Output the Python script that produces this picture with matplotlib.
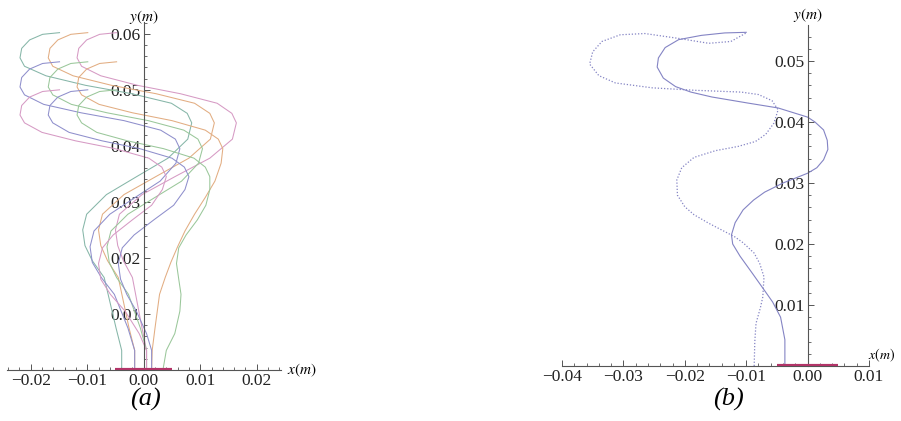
import matplotlib.pyplot as plt
from matplotlib.ticker import MultipleLocator, FuncFormatter

plt.rcParams['font.family'] = ['Liberation Serif', 'DejaVu Serif']
plt.rcParams['mathtext.fontset'] = 'stix'

# ---- panel (a): nine filament shapes (metres), base -> free tip ----
# heights along the filament, one list per tip height (0.060, 0.055, 0.050)
a_y_top = [0.0000, 0.0035, 0.0075, 0.0165, 0.0195, 0.0222, 0.0250, 0.0278, 0.0313, 0.0346, 0.0378, 0.0412,
           0.0441, 0.0458, 0.0476, 0.0493, 0.0508, 0.0525, 0.0542, 0.0557, 0.0574, 0.0589, 0.0599, 0.0602]
a_y_mid = [0.0000, 0.0035, 0.0075, 0.0135, 0.0165, 0.0192, 0.0220, 0.0248, 0.0278, 0.0308, 0.0337, 0.0369,
           0.0395, 0.0412, 0.0428, 0.0445, 0.0459, 0.0474, 0.0491, 0.0505, 0.0522, 0.0537, 0.0547, 0.0550]
a_y_low = [0.0000, 0.0035, 0.0065, 0.0105, 0.0135, 0.0162, 0.0190, 0.0218, 0.0241, 0.0268, 0.0294, 0.0322,
           0.0345, 0.0362, 0.0378, 0.0395, 0.0409, 0.0424, 0.0441, 0.0455, 0.0472, 0.0487, 0.0497, 0.0500]

a_x = {
    'top_left': [-0.0039, -0.0039, -0.0049, -0.0070, -0.0091, -0.0104, -0.0108, -0.0101, -0.0066, -0.0011, 0.0043, 0.0078,
                 0.0085, 0.0077, 0.0049, -0.0021, -0.0103, -0.0173, -0.0211, -0.0219, -0.0216, -0.0202, -0.0179, -0.0149],
    'top_mid': [-0.0016, -0.0016, -0.0026, -0.0045, -0.0064, -0.0076, -0.0080, -0.0073, -0.0035, 0.0023, 0.0080, 0.0118,
                0.0125, 0.0117, 0.0090, 0.0022, -0.0057, -0.0125, -0.0161, -0.0169, -0.0166, -0.0152, -0.0129, -0.0099],
    'top_right': [0.0005, 0.0005, -0.0003, -0.0020, -0.0036, -0.0046, -0.0050, -0.0043, -0.0003, 0.0057, 0.0117, 0.0157,
                  0.0164, 0.0156, 0.0130, 0.0065, -0.0011, -0.0076, -0.0110, -0.0118, -0.0115, -0.0101, -0.0078, -0.0048],
    'mid_left': [-0.0016, -0.0016, -0.0028, -0.0052, -0.0075, -0.0091, -0.0095, -0.0088, -0.0060, -0.0015, 0.0029, 0.0057,
                 0.0064, 0.0056, 0.0030, -0.0035, -0.0111, -0.0177, -0.0211, -0.0219, -0.0216, -0.0202, -0.0179, -0.0149],
    'mid_mid': [0.0005, 0.0005, -0.0006, -0.0027, -0.0048, -0.0061, -0.0065, -0.0058, -0.0028, 0.0020, 0.0067, 0.0097,
                0.0104, 0.0096, 0.0071, 0.0008, -0.0065, -0.0128, -0.0161, -0.0169, -0.0166, -0.0152, -0.0129, -0.0099],
    'mid_right': [0.0014, 0.0015, 0.0020, 0.0028, 0.0038, 0.0048, 0.0060, 0.0073, 0.0090, 0.0109, 0.0126, 0.0137,
                  0.0140, 0.0132, 0.0109, 0.0050, -0.0020, -0.0079, -0.0110, -0.0118, -0.0115, -0.0101, -0.0078, -0.0048],
    'low_left': [0.0005, 0.0005, -0.0008, -0.0033, -0.0059, -0.0076, -0.0080, -0.0073, -0.0054, -0.0020, 0.0014, 0.0033,
                 0.0040, 0.0032, 0.0009, -0.0051, -0.0121, -0.0180, -0.0211, -0.0219, -0.0216, -0.0202, -0.0179, -0.0149],
    'low_mid': [0.0014, 0.0014, 0.0005, -0.0013, -0.0030, -0.0041, -0.0045, -0.0038, -0.0017, 0.0018, 0.0053, 0.0073,
                0.0080, 0.0072, 0.0050, -0.0007, -0.0074, -0.0132, -0.0161, -0.0169, -0.0166, -0.0152, -0.0129, -0.0099],
    'low_right': [0.0034, 0.0040, 0.0055, 0.0064, 0.0066, 0.0062, 0.0058, 0.0062, 0.0075, 0.0095, 0.0110, 0.0117,
                  0.0117, 0.0109, 0.0089, 0.0035, -0.0029, -0.0083, -0.0110, -0.0118, -0.0115, -0.0101, -0.0078, -0.0048],
}
a_y = {k: (a_y_top if k.startswith('top') else a_y_mid if k.startswith('mid') else a_y_low)
       for k in a_x}
a_colors = {
    'top_left': '#86b6a8', 'top_mid': '#e2ad82', 'top_right': '#d69ac4',
    'mid_left': '#8f8fcc', 'mid_mid': '#9ac79a', 'mid_right': '#e2ad82',
    'low_left': '#d69ac4', 'low_mid': '#8f8fcc', 'low_right': '#9ac79a',
}

# ---- panel (b): two shapes ----
b_solid_x = [-0.0037, -0.0037, -0.0044, -0.0057, -0.0071, -0.0090, -0.0110, -0.0122, -0.0124, -0.0118, -0.0105, -0.0088, -0.0070, -0.0040, -0.0015, 0.0000, 0.0015, 0.0026, 0.0033, 0.0032, 0.0026, 0.0012, 0.0000, -0.0048, -0.0097, -0.0156, -0.0190, -0.0215, -0.0235, -0.0245, -0.0243, -0.0232, -0.0210, -0.0173, -0.0135, -0.0100]
b_solid_y = [0.0000, 0.0043, 0.0080, 0.0105, 0.0125, 0.0152, 0.0180, 0.0200, 0.0215, 0.0235, 0.0256, 0.0272, 0.0285, 0.0300, 0.0310, 0.0316, 0.0325, 0.0338, 0.0355, 0.0370, 0.0387, 0.0400, 0.0408, 0.0423, 0.0431, 0.0441, 0.0449, 0.0458, 0.0472, 0.0490, 0.0505, 0.0522, 0.0535, 0.0542, 0.0546, 0.0547]

b_dot_x = [-0.0087, -0.0086, -0.0084, -0.0077, -0.0073, -0.0071, -0.0078, -0.0087, -0.0105, -0.0119, -0.0161, -0.0185, -0.0200, -0.0212, -0.0213, -0.0205, -0.0185, -0.0150, -0.0113, -0.0085, -0.0068, -0.0055, -0.0048, -0.0058, -0.0080, -0.0108, -0.0184, -0.0253, -0.0313, -0.0340, -0.0355, -0.0350, -0.0335, -0.0305, -0.0265, -0.0210, -0.0161, -0.0125, -0.0100]
b_dot_y = [0.0000, 0.0040, 0.0070, 0.0095, 0.0113, 0.0146, 0.0168, 0.0185, 0.0202, 0.0212, 0.0234, 0.0248, 0.0261, 0.0280, 0.0305, 0.0325, 0.0342, 0.0353, 0.0360, 0.0368, 0.0380, 0.0398, 0.0420, 0.0435, 0.0445, 0.0449, 0.0452, 0.0456, 0.0464, 0.0476, 0.0495, 0.0515, 0.0532, 0.0543, 0.0545, 0.0537, 0.0529, 0.0532, 0.0546]

base_x = [-0.005, 0.005]

a_xticks = [-0.02, -0.01, 0.00, 0.01, 0.02]
a_yticks = [0.01, 0.02, 0.03, 0.04, 0.05, 0.06]
b_xticks = [-0.04, -0.03, -0.02, -0.01, 0.00, 0.01]
b_yticks = [0.01, 0.02, 0.03, 0.04, 0.05]

AXIS_COLOR = '#555555'
LINE_COLOR = '#8484c4'
BASE_COLOR = '#b23468'


def fmt(v, pos=None):
    if abs(v) < 1e-9:
        v = 0.0
    return f'{v:.2f}'.replace('-', '\u2212')


def style_axes(ax, xticks, yticks):
    for side in ('top', 'right'):
        ax.spines[side].set_visible(False)
    for side in ('left', 'bottom'):
        ax.spines[side].set_position(('data', 0))
        ax.spines[side].set_color(AXIS_COLOR)
        ax.spines[side].set_linewidth(0.8)
    ax.set_xticks(xticks)
    ax.set_yticks(yticks)
    ax.xaxis.set_major_formatter(FuncFormatter(fmt))
    ax.yaxis.set_major_formatter(FuncFormatter(fmt))
    ax.xaxis.set_minor_locator(MultipleLocator(0.002))
    ax.yaxis.set_minor_locator(MultipleLocator(0.002))
    ax.tick_params(which='major', direction='in', length=4, width=0.7,
                   color=AXIS_COLOR, labelsize=12.5, pad=2,
                   labelcolor='#222222')
    ax.tick_params(which='minor', direction='in', length=2, width=0.6,
                   color=AXIS_COLOR)
    ax.patch.set_alpha(0)


fig = plt.figure(figsize=(9.01, 4.21), dpi=100)

# panel (a)
ax1 = fig.add_axes([7 / 901, 51 / 421, 274 / 901, 348 / 421])
for key in a_x:
    ax1.plot(a_x[key], a_y[key], color=a_colors[key], lw=0.75)
ax1.plot(base_x, [0, 0], color=BASE_COLOR, lw=3, solid_capstyle='butt', zorder=5)
ax1.set_xlim(-0.0242, 0.0243)
ax1.set_ylim(0, 0.0621)
style_axes(ax1, a_xticks, a_yticks)
ax1.text(0, 0.0630, r'$y(m)$', ha='center', va='center', fontsize=11,
         clip_on=False)
ax1.text(0.0253, 0, r'$x(m)$', ha='left', va='center', fontsize=11,
         clip_on=False)

# panel (b)
ax2 = fig.add_axes([562 / 901, 55 / 421, 307 / 901, 341 / 421])
ax2.plot(b_solid_x, b_solid_y, color=LINE_COLOR, lw=0.8)
ax2.plot(b_dot_x, b_dot_y, color=LINE_COLOR, lw=0.9, ls=(0, (1, 1.5)))
ax2.plot(base_x, [0, 0], color=BASE_COLOR, lw=3, solid_capstyle='butt', zorder=5)
ax2.set_xlim(-0.0395, 0.0100)
ax2.set_ylim(0, 0.0559)
style_axes(ax2, b_xticks, b_yticks)
ax2.text(0, 0.0575, r'$y(m)$', ha='center', va='center', fontsize=11,
         clip_on=False)
ax2.text(0.0098, 0.0003, r'$x(m)$', ha='left', va='bottom', fontsize=10,
         clip_on=False)

fig.text(145 / 901, 1 - 399 / 421, '(a)', ha='center', va='center',
         fontsize=19, style='italic')
fig.text(728 / 901, 1 - 399 / 421, '(b)', ha='center', va='center',
         fontsize=19, style='italic')

fig.savefig('out.png', dpi=100)
